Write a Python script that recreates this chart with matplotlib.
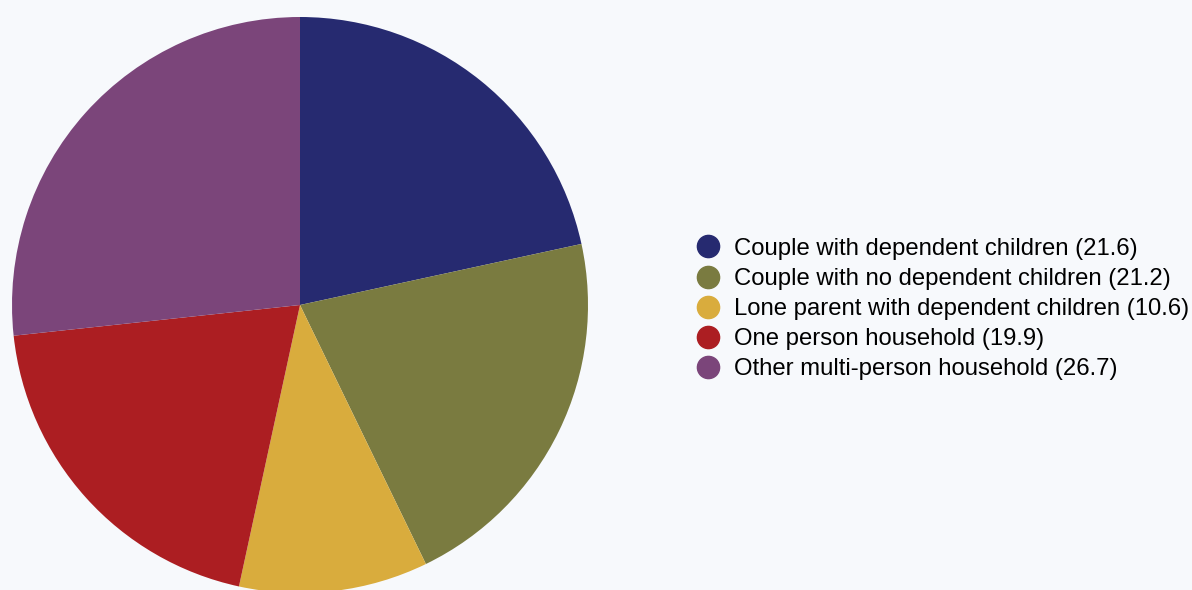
import matplotlib.pyplot as plt
from matplotlib.lines import Line2D

categories = [
    "Couple with dependent children",
    "Couple with no dependent children",
    "Lone parent with dependent children",
    "One person household",
    "Other multi-person household",
]
shares = [21.6, 21.2, 10.6, 19.9, 26.7]
colors = ["#262A70", "#7A7B40", "#D9AC3D", "#AC1E22", "#7B457A"]
BG = "#F7F9FC"

W, H = 1192, 590
fig = plt.figure(figsize=(W / 100, H / 100), dpi=100, facecolor=BG)

# pie centred at (300, 305) px, radius 288 px
cx, cy, r = 300, 305, 288
ax = fig.add_axes([(cx - r) / W, (H - cy - r) / H, 2 * r / W, 2 * r / H])
ax.set_facecolor(BG)
ax.pie(shares, colors=colors, startangle=90, counterclock=False, radius=1.0,
       wedgeprops=dict(linewidth=0))
ax.set_xlim(-1, 1)
ax.set_ylim(-1, 1)
ax.set_axis_off()

handles = [
    Line2D([], [], marker="o", linestyle="none", markersize=16, markerfacecolor=c, markeredgecolor=c)
    for c in colors
]
labels = [f"{name} ({v})" for name, v in zip(categories, shares)]
fig.legend(handles, labels, loc="center left", bbox_to_anchor=(696 / W, 1 - 309 / H),
           frameon=False, handletextpad=0.6, labelspacing=0.34,
           prop={"family": "Liberation Sans", "size": 17.2}, handlelength=1.0, borderpad=0,
           borderaxespad=0)

fig.savefig("out.png", dpi=100, facecolor=BG)
